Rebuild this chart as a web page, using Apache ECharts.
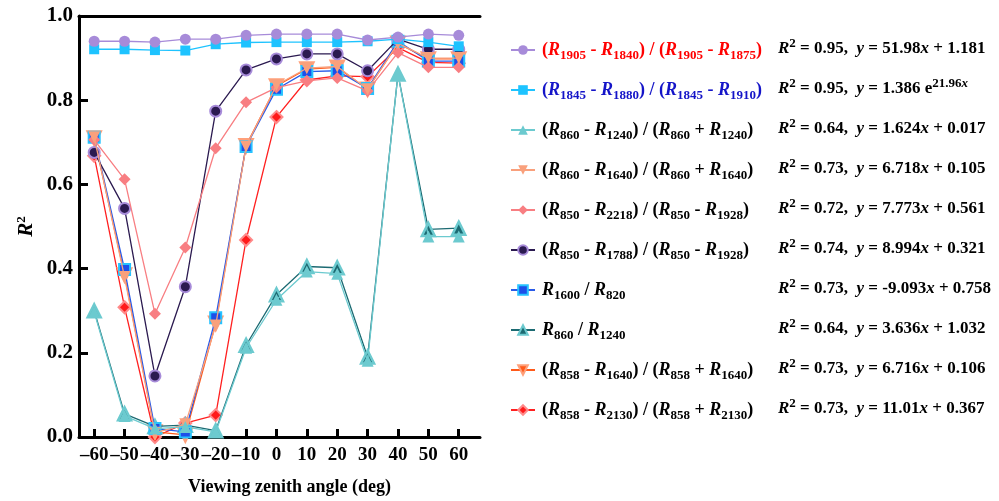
<!DOCTYPE html>
<html>
<head>
<meta charset="utf-8">
<script src="https://cdn.jsdelivr.net/npm/echarts@6/dist/echarts.min.js"></script>
<style>
  html, body { margin: 0; padding: 0; background: #fff; }
  #main { width: 999px; height: 501px; }
</style>
</head>
<body>
<div id="main"></div>
<script>
// angulos de vision
var angles = [-60, -50, -40, -30, -20, -10, 0, 10, 20, 30, 40, 50, 60];
var tickAngles = [-60, -50, -40, -30, -20, -10, 0, 10, 20, 30, 40, 50, 60];
var yTicks = [0, 0.2, 0.4, 0.6, 0.8, 1.0];

// R2 de cada indice por angulo
var r1905 = [0.940, 0.940, 0.938, 0.945, 0.945, 0.954, 0.957, 0.957, 0.957, 0.943, 0.950, 0.957, 0.954];
var r1845 = [0.921, 0.921, 0.919, 0.918, 0.933, 0.937, 0.938, 0.938, 0.938, 0.940, 0.945, 0.938, 0.928];
var nd860_1240 = [0.297, 0.050, 0.020, 0.024, 0.012, 0.212, 0.326, 0.393, 0.388, 0.181, 0.862, 0.476, 0.476];
var nd860_1640 = [0.712, 0.380, 0.010, 0.030, 0.265, 0.690, 0.836, 0.876, 0.880, 0.826, 0.935, 0.900, 0.900];
var d850_2218 = [0.706, 0.612, 0.293, 0.450, 0.686, 0.795, 0.830, 0.846, 0.853, 0.822, 0.913, 0.878, 0.878];
var d850_1788 = [0.676, 0.543, 0.145, 0.357, 0.774, 0.872, 0.898, 0.910, 0.910, 0.870, 0.945, 0.921, 0.921];
var sr1600_820 = [0.712, 0.398, 0.020, 0.012, 0.283, 0.690, 0.826, 0.868, 0.870, 0.828, 0.940, 0.893, 0.893];
var sr860_1240 = [0.300, 0.055, 0.025, 0.028, 0.015, 0.218, 0.338, 0.405, 0.402, 0.190, 0.862, 0.493, 0.496];
var nd858_1640 = [0.710, 0.385, 0.012, 0.005, 0.270, 0.692, 0.834, 0.874, 0.878, 0.826, 0.935, 0.898, 0.898];
var nd858_2130 = [0.668, 0.308, 0.000, 0.033, 0.052, 0.468, 0.760, 0.848, 0.858, 0.856, 0.925, 0.890, 0.888];

// nombres (R_xxx = R con subindice)
var names = [
  '(R_1905 - R_1840) / (R_1905 - R_1875)',
  '(R_1845 - R_1880) / (R_1845 - R_1910)',
  '(R_860 - R_1240) / (R_860 + R_1240)',
  '(R_860 - R_1640) / (R_860 + R_1640)',
  '(R_850 - R_2218) / (R_850 - R_1928)',
  '(R_850 - R_1788) / (R_850 - R_1928)',
  'R_1600 / R_820',
  'R_860 / R_1240',
  '(R_858 - R_1640) / (R_858 + R_1640)',
  '(R_858 - R_2130) / (R_858 + R_2130)'
];
var r2Vals = ['0.95', '0.95', '0.64', '0.73', '0.72', '0.74', '0.73', '0.64', '0.73', '0.73'];
var slopes = ['51.98', '21.96', '1.624', '6.718', '7.773', '8.994', '-9.093', '3.636', '6.716', '11.01'];
var intercepts = ['1.181', '1.386', '0.017', '0.105', '0.561', '0.321', '0.758', '1.032', '0.106', '0.367'];

var FONT = 'Liberation Serif';

//CONSTRUCCION DE TEXTO RICO
function nameRich(s) {
  var out = '';
  var parts = s.split(/(R_\d+)/);
  parts.forEach(function (p) {
    if (!p) return;
    if (p.indexOf('R_') === 0) {
      out += '{i|R}{s|' + p.slice(2) + '}';
    } else {
      out += '{n|' + p + '}';
    }
  });
  return out;
}

function eqRich(k) {
  var t = '{i|R}{p|2}{n| = ' + r2Vals[k] + ',  }{i|y}';
  if (k === 1) {
    t += '{n| = ' + intercepts[k] + ' e}{p|' + slopes[k] + '}{pi|x}';
  } else {
    t += '{n| = ' + slopes[k] + '}{i|x}{n| + ' + intercepts[k] + '}';
  }
  return t;
}

function richStyles(size, color) {
  return {
    n: { fontFamily: FONT, fontWeight: 'bold', fontSize: size, lineHeight: 24, color: color },
    i: { fontFamily: FONT, fontWeight: 'bold', fontStyle: 'italic', fontSize: size, lineHeight: 24, color: color },
    s: { fontFamily: FONT, fontWeight: 'bold', fontSize: 13, lineHeight: 15, verticalAlign: 'bottom', color: color },
    p: { fontFamily: FONT, fontWeight: 'bold', fontSize: 13, lineHeight: 16, verticalAlign: 'top', color: color },
    pi: { fontFamily: FONT, fontWeight: 'bold', fontStyle: 'italic', fontSize: 13, lineHeight: 16, verticalAlign: 'top', color: color }
  };
}

var styles = [
  { symbol: 'circle', size: 11, color: '#a78bd9', line: '#a78bd9' },
  { symbol: 'rect', size: 10, color: '#1ec3ff', line: '#1ec3ff' },
  { symbol: 'triangle', size: 12, color: '#6ccacf', line: '#6ccacf' },
  { symbol: 'triangle', size: 12, color: '#f9a07c', line: '#f9a07c', rot: 180 },
  { symbol: 'diamond', size: 12, color: '#f87e82', line: '#f87e82' },
  { symbol: 'circle', size: 11, color: '#2b1a50', line: '#2b1a50', border: '#a78bd9', bw: 2 },
  { symbol: 'rect', size: 11, color: '#1d4fe8', line: '#2a5be8', border: '#26c2ff', bw: 2 },
  { symbol: 'triangle', size: 13, color: '#1c6a72', line: '#1c6a72', border: '#6ccacf', bw: 2.5 },
  { symbol: 'triangle', size: 13, color: '#ff5a1a', line: '#ff5a1a', border: '#ffa07a', bw: 2.5, rot: 180 },
  { symbol: 'diamond', size: 12, color: '#ff1a1a', line: '#ff2020', border: '#ff8a8a', bw: 2 }
];

var datasets = [r1905, r1845, nd860_1240, nd860_1640, d850_2218, d850_1788, sr1600_820, sr860_1240, nd858_1640, nd858_2130];
var textColors = ['#ff0000', '#1414c8', '#000', '#000', '#000', '#000', '#000', '#000', '#000', '#000'];

function main() {
  var chart = echarts.init(document.getElementById('main'));

  var series = datasets.map(function (vals, k) {
    var st = styles[k];
    return {
      name: names[k],
      type: 'line',
      z: 20 - k,
      data: angles.map(function (a, j) { return [a, vals[j]]; }),
      symbol: st.symbol,
      symbolSize: st.size,
      symbolRotate: st.rot || 0,
      lineStyle: { color: st.line, width: 1.3 },
      itemStyle: {
        color: st.color,
        borderColor: st.border || st.color,
        borderWidth: st.bw || 0
      },
      emphasis: { disabled: true }
    };
  });

  var legendData = names.map(function (n, k) {
    return { name: n, textStyle: { rich: richStyles(18, textColors[k]) } };
  });

  var graphics = names.map(function (n, k) {
    return {
      type: 'text',
      left: 778,
      top: 37 + 40 * k,
      style: {
        text: eqRich(k),
        rich: richStyles(17, '#000'),
        fill: '#000'
      }
    };
  });

  var option = {
    backgroundColor: '#fff',
    animation: false,
    grid: { left: 79, right: 519, top: 16, bottom: 64 },
    xAxis: [{
      type: 'value',
      min: -65,
      max: 67,
      name: 'Viewing zenith angle (deg)',
      nameLocation: 'middle',
      nameGap: 41,
      nameTextStyle: { fontFamily: FONT, fontWeight: 'bold', fontSize: 18, color: '#000', padding: [0, 0, 0, 20] },
      axisLine: { onZero: false, lineStyle: { color: '#000', width: 3 } },
      axisTick: { inside: true, length: 8, lineStyle: { color: '#000', width: 3 }, customValues: tickAngles },
      axisLabel: {
        customValues: tickAngles,
        margin: 9,
        fontFamily: FONT, fontWeight: 'bold', fontSize: 19, color: '#000',
        formatter: function (v) { return v < 0 ? '\u2013' + Math.abs(v) : String(v); }
      },
      splitLine: { show: false }
    }, {
      type: 'value',
      position: 'top',
      min: -65,
      max: 67,
      axisLine: { show: true, onZero: false, lineStyle: { color: '#000', width: 3 } },
      axisTick: { show: false },
      axisLabel: { show: false },
      splitLine: { show: false }
    }],
    yAxis: {
      type: 'value',
      min: 0,
      max: 1,
      interval: 0.2,
      name: '{i|R}{p|2}',
      nameLocation: 'middle',
      nameRotate: 90,
      nameGap: 40,
      nameTextStyle: { rich: richStyles(21, '#000') },
      axisLine: { show: true, onZero: false, lineStyle: { color: '#000', width: 3 } },
      axisTick: { show: true, inside: true, length: 9, lineStyle: { color: '#000', width: 3 } },
      axisLabel: {
        margin: 6,
        fontFamily: FONT, fontWeight: 'bold', fontSize: 21, color: '#000',
        customValues: yTicks,
        formatter: function (v) { return v.toFixed(1); }
      },
      splitLine: { show: false }
    },
    legend: {
      orient: 'vertical',
      left: 505,
      top: 36,
      itemWidth: 24,
      itemHeight: 12,
      itemGap: 19,
      selectedMode: false,
      data: legendData,
      formatter: function (n) { return nameRich(n); },
      textStyle: { padding: [0, 0, 0, 2], rich: richStyles(18, '#000') }
    },
    graphic: graphics,
    series: series
  };

  chart.setOption(option);
}

main();
</script>
</body>
</html>
